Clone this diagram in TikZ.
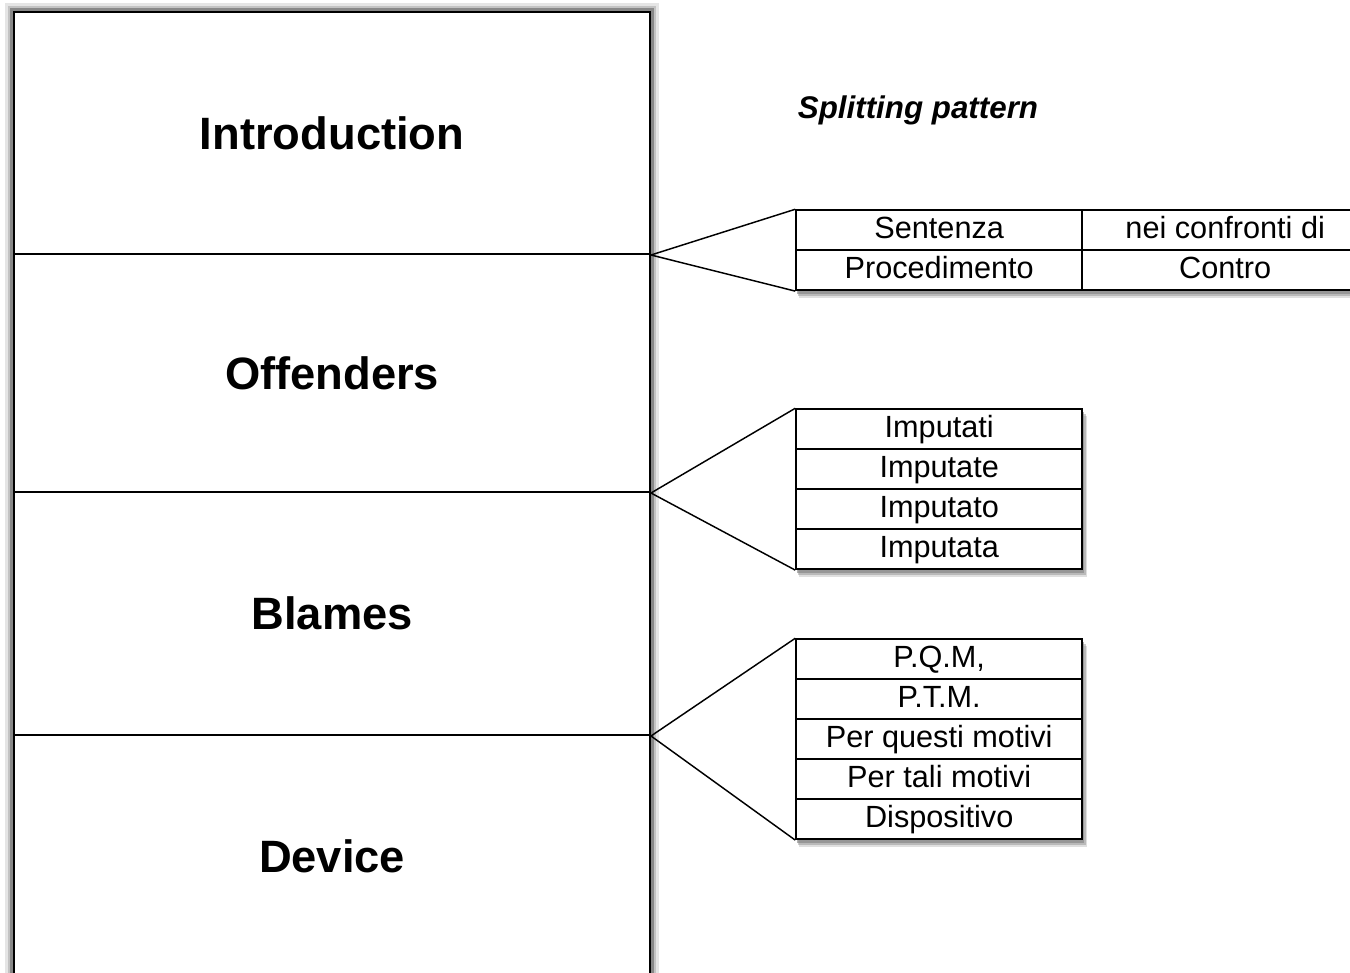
\documentclass[tikz,border=0pt]{standalone}
\usepackage{fontspec}
\setmainfont{Liberation Sans}
\usetikzlibrary{shadows}

\begin{document}
\begin{tikzpicture}[x=0.75pt,y=-0.75pt]
\tikzstyle{section} = [rectangle, draw, line width=1.3pt, fill=white,
minimum width=477pt, font=\bfseries\fontsize{34}{40}\selectfont]
\tikzstyle{cell} = [rectangle, draw, line width=1.4pt, fill=white,
minimum width=214.5pt, minimum height=30pt, inner sep=0pt,
text height=16.5pt, text depth=4.5pt, font=\fontsize{23}{26}\selectfont]
\tikzstyle{halo} = [preaction={draw=black, opacity=.1, line width=12pt},
preaction={draw=black, opacity=.15, line width=8pt},
preaction={draw=black, opacity=.3, line width=4.5pt}]
\tikzstyle{splittab} = [inner sep=0pt, row sep=-1.4pt, column sep=-1.4pt,
drop shadow={shadow xshift=3pt, shadow yshift=-5.5pt, opacity=.25},
drop shadow={shadow xshift=2pt, shadow yshift=-4pt, opacity=.4},
drop shadow={shadow xshift=1pt, shadow yshift=-2.5pt, opacity=.6}]
\tikzstyle{line} = [draw, line width=1.1pt]

\useasboundingbox (0,0) rectangle (1350,973);

\matrix (sections) [anchor=north west, inner sep=0pt, row sep=-1.3pt, halo] at (13,11)
{
% row 1
\node [section, minimum height=181.5pt] (intro) {Introduction}; \\
% row 2
\node [section, minimum height=178.5pt] (offenders) {Offenders}; \\
% row 3
\node [section, minimum height=182.25pt] (blames) {Blames}; \\
% row 4
\node [section, minimum height=181.5pt] (device) {Device}; \\
};

\node [font=\bfseries\itshape\fontsize{23.5}{28}\selectfont] (title) at (918,110) {Splitting pattern};

% introduction
\matrix (heads) [splittab, anchor=north west] at (795,209)
{
\node [cell] (sentenza) {Sentenza}; & \node [cell] (confronti) {nei confronti di}; \\
\node [cell] (procedimento) {Procedimento}; & \node [cell] (contro) {Contro}; \\
};

% offenders
\matrix (imputed) [splittab, anchor=north west] at (795,408)
{
\node [cell] (imputati) {Imputati}; \\
\node [cell] (imputate) {Imputate}; \\
\node [cell] (imputato) {Imputato}; \\
\node [cell] (imputata) {Imputata}; \\
};

% device
\matrix (motives) [splittab, anchor=north west] at (795,638)
{
\node [cell] (pqm) {P.Q.M,}; \\
\node [cell] (ptm) {P.T.M.}; \\
\node [cell] (questi) {Per questi motivi}; \\
\node [cell] (tali) {Per tali motivi}; \\
\node [cell] (dispositivo) {Dispositivo}; \\
};

\path [line] (intro.south east) -- (sentenza.north west);
\path [line] (intro.south east) -- (procedimento.south west);
\path [line] (offenders.south east) -- (imputati.north west);
\path [line] (offenders.south east) -- (imputata.south west);
\path [line] (blames.south east) -- (pqm.north west);
\path [line] (blames.south east) -- (dispositivo.south west);

\end{tikzpicture}
\end{document}
